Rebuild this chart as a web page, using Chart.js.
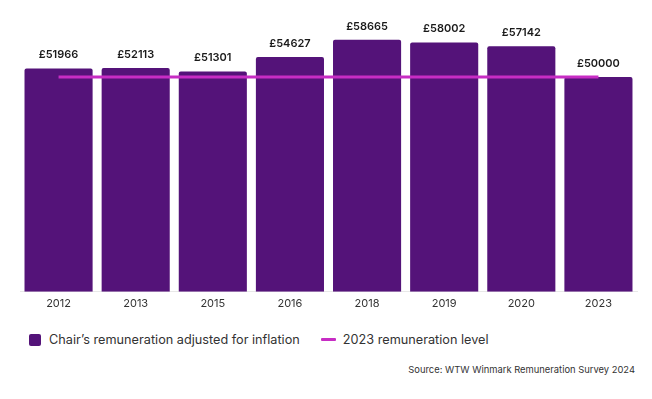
<!DOCTYPE html>
<html>
<head>
<meta charset="utf-8">
<script src="https://cdn.jsdelivr.net/npm/chart.js@4.4.0/dist/chart.umd.min.js"></script>
<style>
  body { margin: 0; background: #fff; font-family: Inter, "Noto Sans", sans-serif; }
  #wrap { position: relative; width: 652px; height: 399px; }
  #chartBox { position: absolute; left: 0; top: 0; width: 652px; height: 307px; }
  .legend { position: absolute; top: 332px; left: 29px; font-size: 12.7px; color: #333; display: flex; align-items: center; }
  .legend .item { display: flex; align-items: center; }
  .swatch-box { width: 12px; height: 12px; background: #541379; border-radius: 2px; margin-right: 8px; }
  .swatch-line { width: 15px; height: 3px; background: #C72DC4; margin-left: 21px; margin-right: 7px; border-radius: 1px; }
  .source { position: absolute; top: 364px; right: 17px; font-size: 9.4px; color: #333; }
</style>
</head>
<body>
<div id="wrap">
  <div id="chartBox"><canvas id="remChart"></canvas></div>
  <div class="legend">
    <div class="item"><span class="swatch-box"></span>Chair’s remuneration adjusted for inflation</div>
    <div class="item"><span class="swatch-line"></span>2023 remuneration level</div>
  </div>
  <div class="source">Source: WTW Winmark Remuneration Survey 2024</div>
</div>
<script>
const years = ['2012', '2013', '2015', '2016', '2018', '2019', '2020', '2023'];
const adjustedPay = [51966, 52113, 51301, 54627, 58665, 58002, 57142, 50000];
const level2023 = [50000, 50000, 50000, 50000, 50000, 50000, 50000, 50000];

// draws the £ labels above each bar
const barLabels = {
    id: 'barLabels',
    afterDatasetsDraw(chart) {
        const ctx = chart.ctx;
        const meta = chart.getDatasetMeta(0);
        ctx.save();
        ctx.font = '600 11px Inter, sans-serif';
        ctx.fillStyle = '#1a1a1a';
        ctx.textAlign = 'center';
        ctx.textBaseline = 'bottom';
        meta.data.forEach((bar, i) => {
            ctx.fillText('£' + adjustedPay[i], bar.x, bar.y - 8);
        });
        ctx.restore();
    }
};

new Chart(document.getElementById('remChart'), {
    data: {
        labels: years,
        datasets: [{
            type: 'bar',
            label: 'Chair’s remuneration adjusted for inflation',
            data: adjustedPay,
            backgroundColor: '#541379',
            borderRadius: 2,
            borderSkipped: 'bottom',
            categoryPercentage: 1,
            barPercentage: 0.883,
            order: 1
        }, {
            type: 'line',
            label: '2023 remuneration level',
            data: level2023,
            borderColor: '#C72DC4',
            borderWidth: 3,
            pointRadius: 0,
            fill: false,
            order: 0
        }]
    },
    options: {
        responsive: true,
        maintainAspectRatio: false,
        animation: false,
        layout: { padding: { left: 20, right: 15, top: 34, bottom: 0 } },
        plugins: {
            legend: { display: false },
            tooltip: { enabled: false }
        },
        scales: {
            y: {
                display: false,
                min: 0,
                max: 60000
            },
            x: {
                grid: { display: false },
                border: { display: true, color: '#e8e8e8' },
                ticks: { color: '#333', font: { family: 'Inter', size: 11 }, padding: -3 }
            }
        }
    },
    plugins: [barLabels]
});
</script>
</body>
</html>
